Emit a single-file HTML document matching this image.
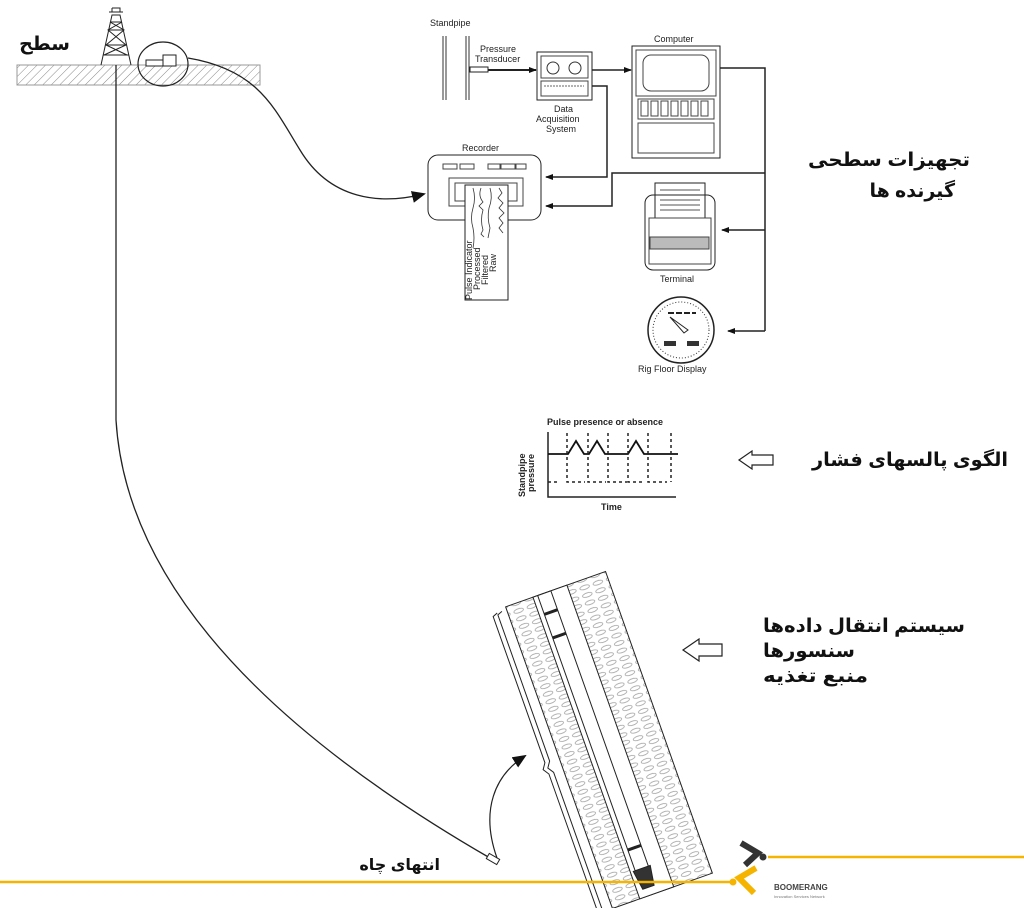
<!DOCTYPE html>
<html><head><meta charset="utf-8"><style>
html,body{margin:0;padding:0;background:#fff;}
svg{display:block;}
.l{font-family:"Liberation Sans",Arial,sans-serif;font-size:9px;fill:#222;}
.fa{font-family:"Liberation Sans","Noto Sans CJK SC","DejaVu Sans",sans-serif;font-weight:bold;fill:#111;}
</style></head><body>
<svg width="1024" height="908" viewBox="0 0 1024 908" xmlns="http://www.w3.org/2000/svg">
<defs>
<pattern id="h" width="6" height="6" patternUnits="userSpaceOnUse" patternTransform="rotate(45)">
<line x1="0" y1="0" x2="0" y2="6" stroke="#888" stroke-width="1"/></pattern>
<pattern id="rock" width="14" height="8" patternUnits="userSpaceOnUse">
<ellipse cx="7" cy="4" rx="5" ry="2" fill="none" stroke="#999" stroke-width="0.7"/></pattern>
<marker id="ar" markerWidth="8" markerHeight="8" refX="7" refY="4" orient="auto" markerUnits="userSpaceOnUse"><path d="M0,1 L8,4 L0,7 Z" fill="#111"/></marker>
<marker id="ab" markerWidth="14" markerHeight="12" refX="12" refY="6" orient="auto" markerUnits="userSpaceOnUse"><path d="M0,0 L14,6 L0,12 Z" fill="#111"/></marker>
</defs>

<rect x="17" y="65" width="243" height="20" fill="url(#h)" stroke="#999"/>
<g stroke="#222" fill="none" stroke-width="1">
<path d="M101,65 L112,15 L120,15 L131,65"/>
<path d="M109,12 L123,12 M112,8 L120,8 L120,12 M112,8 L112,12"/>
<path d="M108,30 L124,30 M105,45 L127,45 M103,55 L129,55 M110,22 L122,22"/>
<path d="M110,22 L124,30 L106,45 L127,55 M122,22 L108,30 L126,45 L104,55"/>
</g>
<text class="fa" x="70" y="50" font-size="19" text-anchor="end">سطح</text>
<ellipse cx="163" cy="64" rx="25" ry="22" fill="none" stroke="#222" stroke-width="1.2"/>
<path d="M146,66 L163,66 L163,60 L146,60 Z M162,66 L176,66 L176,55 L163,55 L163,60" fill="#fff" stroke="#222"/>
<path d="M188,58 C260,70 275,110 300,150 C330,200 380,205 424,194" fill="none" stroke="#222" stroke-width="1.3" marker-end="url(#ab)"/>
<path d="M116,65 L116,420 Q130,650 490,858" fill="none" stroke="#222" stroke-width="1.3"/>
<rect x="487" y="856" width="12" height="6" fill="#fff" stroke="#222" transform="rotate(30 493 859)"/>
<path d="M497,858 C480,810 495,775 525,756" fill="none" stroke="#222" stroke-width="1.2" marker-end="url(#ab)"/>

<text class="l" x="430" y="26" font-size="8">Standpipe</text>
<g stroke="#333" stroke-width="1"><line x1="443" y1="36" x2="443" y2="100"/><line x1="446" y1="36" x2="446" y2="100"/><line x1="466" y1="36" x2="466" y2="100"/><line x1="469" y1="36" x2="469" y2="100"/></g>
<text class="l" x="480" y="52" font-size="8.5">Pressure</text>
<text class="l" x="475" y="62" font-size="8.5">Transducer</text>
<rect x="470" y="67" width="18" height="5" fill="#fff" stroke="#222"/>
<line x1="488" y1="70" x2="536" y2="70" stroke="#222" stroke-width="2" marker-end="url(#ar)"/>
<rect x="537" y="52" width="55" height="48" fill="#fff" stroke="#222"/>
<rect x="541" y="56" width="47" height="22" fill="none" stroke="#444"/>
<circle cx="553" cy="68" r="6" fill="none" stroke="#333"/><circle cx="575" cy="68" r="6" fill="none" stroke="#333"/>
<rect x="541" y="81" width="47" height="15" fill="none" stroke="#444"/>
<line x1="544" y1="86" x2="584" y2="86" stroke="#666" stroke-dasharray="2,1"/>
<text class="l" x="554" y="112">Data</text>
<text class="l" x="536" y="122">Acquisition</text>
<text class="l" x="546" y="132">System</text>
<line x1="592" y1="70" x2="631" y2="70" stroke="#222" stroke-width="1.5" marker-end="url(#ar)"/>

<text class="l" x="654" y="42">Computer</text>
<rect x="632" y="46" width="88" height="112" fill="#fff" stroke="#222"/>
<rect x="636" y="50" width="80" height="46" fill="none" stroke="#444"/>
<rect x="643" y="55" width="66" height="36" rx="8" fill="none" stroke="#444"/>
<rect x="638" y="99" width="76" height="20" fill="none" stroke="#444"/>
<g fill="none" stroke="#444"><rect x="641" y="101" width="7" height="15"/><rect x="651" y="101" width="7" height="15"/><rect x="661" y="101" width="7" height="15"/><rect x="671" y="101" width="7" height="15"/><rect x="681" y="101" width="7" height="15"/><rect x="691" y="101" width="7" height="15"/><rect x="701" y="101" width="7" height="15"/></g>
<rect x="638" y="123" width="76" height="30" fill="none" stroke="#444"/>

<g fill="none" stroke="#222" stroke-width="1.5">
<path d="M720,68 L765,68 L765,331"/>
<path d="M592,86 L607,86 L607,177 L546,177" marker-end="url(#ar)"/>
<path d="M765,173 L612,173 L612,206 L546,206" marker-end="url(#ar)"/>
<path d="M765,230 L722,230" marker-end="url(#ar)"/>
<path d="M765,331 L728,331" marker-end="url(#ar)"/>
</g>

<text class="l" x="462" y="151">Recorder</text>
<rect x="428" y="155" width="113" height="65" rx="10" fill="#fff" stroke="#222"/>
<g fill="none" stroke="#444"><rect x="443" y="164" width="14" height="5"/><rect x="460" y="164" width="14" height="5"/><rect x="488" y="164" width="12" height="5"/><rect x="501" y="164" width="14" height="5"/><rect x="516" y="164" width="10" height="5"/>
<rect x="449" y="178" width="74" height="28"/><rect x="455" y="183" width="62" height="18"/></g>
<rect x="465" y="185" width="43" height="115" fill="#fff" stroke="#222"/>
<g fill="none" stroke="#333" stroke-width="0.8">
<path d="M473,188 q3,10 0,20 q-3,10 0,20 q2,10 0,20"/>
<path d="M481,188 q-3,8 2,14 l-4,4 l4,4 q-3,10 0,20 l-2,4 l3,3"/>
<path d="M490,188 q3,10 -1,20 q-2,10 1,20 l-2,10"/>
<path d="M499,188 l3,5 l-4,5 l5,5 l-4,5 l5,5 l-5,5 l4,5 l-4,5 l4,5"/>
</g>
<g class="l" font-size="5"><text transform="translate(472,300) rotate(-90)">Pulse Indicator</text><text transform="translate(480,290) rotate(-90)">Processed</text><text transform="translate(488,285) rotate(-90)">Filtered</text><text transform="translate(496,272) rotate(-90)">Raw</text></g>

<rect x="655" y="183" width="50" height="35" fill="#fff" stroke="#222"/>
<g stroke="#555" stroke-width="1"><line x1="660" y1="190" x2="700" y2="190"/><line x1="660" y1="195" x2="700" y2="195"/><line x1="660" y1="200" x2="700" y2="200"/><line x1="660" y1="205" x2="700" y2="205"/><line x1="660" y1="210" x2="700" y2="210"/></g>
<rect x="645" y="195" width="70" height="75" rx="8" fill="none" stroke="#222"/>
<rect x="649" y="218" width="62" height="46" fill="none" stroke="#444"/>
<rect x="650" y="237" width="59" height="12" fill="#bbb" stroke="#444"/>
<text class="l" x="660" y="282">Terminal</text>

<circle cx="681" cy="330" r="33" fill="#fff" stroke="#222" stroke-width="1.5"/>
<circle cx="681" cy="330" r="28" fill="none" stroke="#333" stroke-dasharray="1,2"/>
<path d="M670,317 L688,330 L684,333 Z" fill="#fff" stroke="#222"/>
<line x1="668" y1="313" x2="696" y2="313" stroke="#222" stroke-width="2" stroke-dasharray="6,2"/>
<rect x="664" y="341" width="12" height="5" fill="#333"/><rect x="687" y="341" width="12" height="5" fill="#333"/>
<text class="l" x="638" y="372">Rig Floor Display</text>

<text class="fa" x="808" y="166" font-size="19" textLength="162" lengthAdjust="spacingAndGlyphs">تجهیزات سطحی</text>
<text class="fa" x="955" y="197" font-size="19" text-anchor="end">گیرنده ها</text>

<text class="l" x="547" y="425" font-size="8.5" font-weight="bold">Pulse presence or absence</text>
<path d="M548,432 L548,497 L676,497" fill="none" stroke="#222" stroke-width="1.5"/>
<path d="M548,454 L568,454 L576,441 L584,454 L589,454 L597,441 L605,454 L628,454 L636,441 L644,454 L678,454" fill="none" stroke="#111" stroke-width="1.8"/>
<g stroke="#222" stroke-width="1.5" stroke-dasharray="3,3" fill="none">
<path d="M548,482 L557,482"/>
<path d="M567,433 L567,482 L585,482"/><path d="M588,433 L588,482 L606,482"/><path d="M608,433 L608,482 L627,482"/><path d="M628,433 L628,482 L645,482"/><path d="M648,433 L648,482 L667,482"/><path d="M671,433 L671,482"/>
</g>
<g class="l" font-size="8" font-weight="bold"><text transform="translate(525,497) rotate(-90)">Standpipe</text><text transform="translate(534,492) rotate(-90)">pressure</text></g>
<text class="l" x="601" y="510" font-size="8.5" font-weight="bold">Time</text>
<path d="M739,460 L752,451 L752,455 L773,455 L773,465 L752,465 L752,469 Z" fill="#fff" stroke="#222" stroke-width="1.2"/>
<text class="fa" x="812" y="466" font-size="19" textLength="196" lengthAdjust="spacingAndGlyphs">الگوی پالسهای فشار</text>

<g transform="rotate(-19.5 609 740)">
<path d="M546,583 L541,585 L541,740 L537,746 L541,752 L541,905 L548,907" fill="none" stroke="#222"/>
<path d="M551,583 L546,585 L546,740 L542,746 L546,752 L546,905 L552,907" fill="none" stroke="#222"/>
<rect x="556" y="580" width="106" height="320" fill="url(#rock)" stroke="#222"/>
<rect x="585" y="580" width="36" height="320" fill="#fff" stroke="#222"/>
<rect x="590" y="580" width="14" height="300" fill="#fff" stroke="#222"/>
<line x1="590" y1="600" x2="604" y2="600" stroke="#222" stroke-width="3"/>
<line x1="590" y1="625" x2="604" y2="625" stroke="#222" stroke-width="3"/>
<line x1="590" y1="850" x2="604" y2="850" stroke="#222" stroke-width="3"/>
<path d="M588,872 L606,872 L603,892 L591,892 Z" fill="#333" stroke="#222"/>
</g>
<path d="M683,650 L699,639 L699,644 L722,644 L722,656 L699,656 L699,661 Z" fill="#fff" stroke="#222" stroke-width="1.2"/>
<text class="fa" x="763" y="632" font-size="19" textLength="202" lengthAdjust="spacingAndGlyphs">سیستم انتقال داده‌ها</text>
<text class="fa" x="763" y="657" font-size="19" textLength="92" lengthAdjust="spacingAndGlyphs">سنسورها</text>
<text class="fa" x="763" y="682" font-size="19" textLength="105" lengthAdjust="spacingAndGlyphs">منبع تغذیه</text>
<text class="fa" x="440" y="870" font-size="16" text-anchor="end">انتهای چاه</text>

<line x1="0" y1="882" x2="730" y2="882" stroke="#f5b400" stroke-width="2.5"/>
<line x1="768" y1="857" x2="1024" y2="857" stroke="#f5b400" stroke-width="2.5"/>
<path d="M741,843 L758,853 L745,865" fill="none" stroke="#333" stroke-width="6"/>
<circle cx="763" cy="857" r="3.5" fill="#333"/>
<path d="M756,868 L739,878 L754,893" fill="none" stroke="#f5b400" stroke-width="6"/>
<circle cx="733" cy="882" r="3.5" fill="#f5b400"/>
<text x="774" y="890" font-family="Liberation Sans,sans-serif" font-size="8" font-weight="bold" fill="#444">BOOMERANG</text>
<text x="774" y="898" font-family="Liberation Sans,sans-serif" font-size="4" fill="#777">Innovation Services Network</text>
</svg>
</body></html>
